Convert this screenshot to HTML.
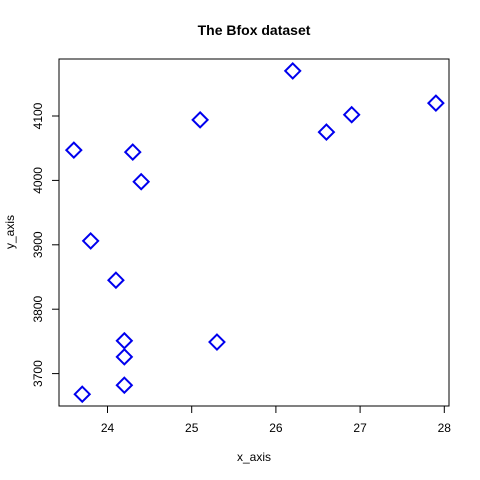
<!DOCTYPE html>
<html><head><meta charset="utf-8"><style>body{margin:0;background:#fff}svg{display:block;font-family:"Liberation Sans",sans-serif}</style></head>
<body>
<svg id="c" width="480" height="480">
<rect width="480" height="480" fill="#fff"/>
<text x="254" y="35" text-anchor="middle" font-weight="bold" font-size="14">The Bfox dataset</text>
<rect x="59" y="59" width="390" height="347" fill="none" stroke="#000"/>
<text x="254" y="461" text-anchor="middle" font-size="12">x_axis</text>
<text transform="translate(14,232) rotate(-90)" text-anchor="middle" font-size="12">y_axis</text>
<g id="ax"></g><g id="pts"></g>
</svg>
<script>
const xVals=[23.6,24.3,24.4,23.8,24.1,24.2,24.2,24.2,23.7,25.3,25.1,26.2,26.6,26.9,27.9];
const yVals=[4047,4044,3998,3906,3845,3751,3726,3682,3668,3749,4094,4170,4075,4102,4120];
const xTicks=[24,25,26,27,28];
const yTicks=[3700,3800,3900,4000,4100];
const NS="http://www.w3.org/2000/svg";
const sx=v=>107.5+(v-24)*84.2;
const sy=v=>116-(v-4100)*0.644;
const ax=document.getElementById('ax'),pts=document.getElementById('pts');
function mk(t,a,p){const e=document.createElementNS(NS,t);for(const k in a)e.setAttribute(k,a[k]);p.appendChild(e);return e;}
xTicks.forEach(v=>{const x=sx(v);
const l=mk('line',{x1:x,x2:x,y1:406,y2:413,stroke:'#000'},ax);


const t=mk('text',{x:x,y:432,'text-anchor':'middle','font-size':12},ax);t.textContent=v;

});
yTicks.forEach(v=>{const y=sy(v);
const l=mk('line',{x1:52,x2:59,y1:y,y2:y,stroke:'#000'},ax);


const t=mk('text',{transform:`translate(42,${y}) rotate(-90)`,'text-anchor':'middle','font-size':12},ax);t.textContent=v;

});
xVals.forEach((v,i)=>{const x=sx(v),y=sy(yVals[i]),r=7.5;
const p=mk('polygon',{points:`${x},${y-r} ${x+r},${y} ${x},${y+r} ${x-r},${y}`,fill:'none',stroke:'#0000ee','stroke-width':2},pts);

});
</script>
</body></html>
